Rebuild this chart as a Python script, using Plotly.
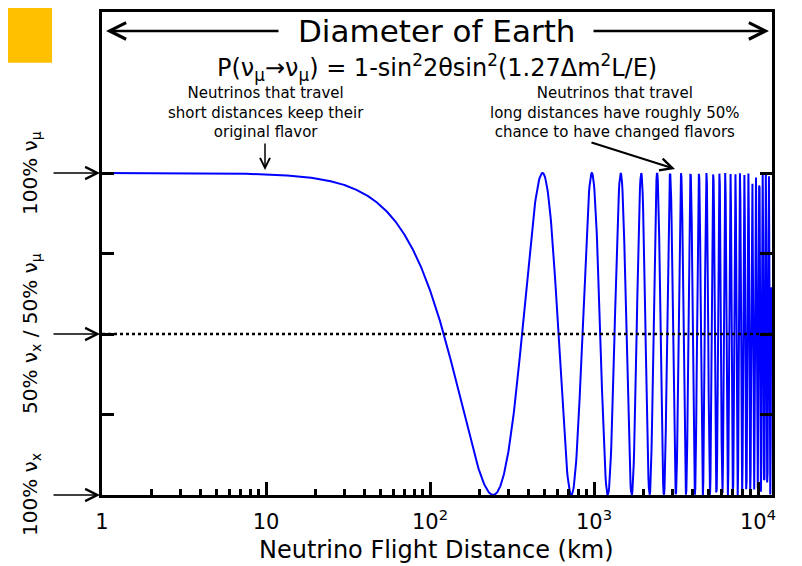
import numpy as np
import plotly.graph_objects as go

# ---- data / parameters ----
SIN2_2THETA = 1.0          # maximal mixing: curve reaches 0
DM2_EV2 = 2.5e-3           # eV^2
E_GEV = 0.49               # GeV  -> first minimum near 242 km
LOG_L_MIN = 0.0            # 1 km
LOG_L_MAX = 4.08           # ~1.2e4 km
N_SAMPLES = 1500
MIXED_LEVEL = 0.5

x_tick_vals = [1, 10, 100, 1000, 10000]
x_tick_text = ["1", "10", "10<sup>2</sup>", "10<sup>3</sup>", "10<sup>4</sup>"]
x_minor_vals = [m * 10 ** d for d in range(4) for m in range(2, 10)]
y_tick_vals = [0.25, 0.5, 0.75, 1.0]

y_label_vals = [1.0, 0.5, 0.0]
y_label_text = ["100% ν<sub>μ</sub>",
                "50% ν<sub>x</sub> / 50% ν<sub>μ</sub>",
                "100% ν<sub>x</sub>"]

title_text = "Diameter of Earth"
formula_text = ("P(ν<sub>μ</sub>→ν<sub>μ</sub>) = 1-sin<sup>2</sup>2θsin<sup>2</sup>"
                "(1.27Δm<sup>2</sup>L/E)")
note_short = "Neutrinos that travel<br>short distances keep their<br>original flavor"
note_long = "Neutrinos that travel<br>long distances have roughly 50%<br>chance to have changed flavors"
x_title = "Neutrino Flight Distance (km)"

# curve from the formula printed on the chart
L_km = np.logspace(LOG_L_MIN, LOG_L_MAX, N_SAMPLES)
P_survive = 1 - SIN2_2THETA * np.sin(1.27 * DM2_EV2 * L_km / E_GEV) ** 2

# ---- layout geometry (page body has an 8px offset) ----
OFF = 8
W, H = 802 - OFF, 566 - OFF
ML, MR, MT, MB = 94, 30, 1, 71
PW, PH = W - ML - MR, H - MT - MB
FONT = "DejaVu Sans"


def px(xr):
    return (xr - OFF - ML) / PW


def py(yr):
    return (H - MB - (yr - OFF)) / PH


fig = go.Figure()
fig.add_trace(go.Scatter(x=L_km, y=P_survive, mode="lines",
                         line=dict(color="#0000ff", width=2), hoverinfo="skip"))
fig.add_trace(go.Scatter(x=[10 ** LOG_L_MIN, 10 ** 4.085], y=[MIXED_LEVEL, MIXED_LEVEL],
                         mode="lines", line=dict(color="black", width=2.5, dash="3px,3px"),
                         hoverinfo="skip"))

ann = []
# title with double arrow
ann.append(dict(xref="paper", yref="paper", x=px(436), y=py(28), text=title_text,
                showarrow=False, font=dict(family=FONT, size=31, color="black"),
                xanchor="center", yanchor="middle"))
ann.append(dict(xref="paper", yref="paper", x=px(106), y=py(28), text="", showarrow=True,
                ax=280 - 106, ay=0, arrowhead=5, arrowwidth=2.5, arrowsize=1.3,
                arrowcolor="black"))
ann.append(dict(xref="paper", yref="paper", x=px(769), y=py(28), text="", showarrow=True,
                ax=592 - 769, ay=0, arrowhead=5, arrowwidth=2.5, arrowsize=1.3,
                arrowcolor="black"))
# formula
ann.append(dict(xref="paper", yref="paper", x=px(437), y=py(65), text=formula_text,
                showarrow=False, font=dict(family=FONT, size=24, color="black"),
                xanchor="center", yanchor="middle"))
# notes
ann.append(dict(xref="paper", yref="paper", x=px(266), y=py(110), text=note_short,
                showarrow=False, font=dict(family=FONT, size=15, color="black"),
                xanchor="center", yanchor="middle"))
ann.append(dict(xref="paper", yref="paper", x=px(615), y=py(110), text=note_long,
                showarrow=False, font=dict(family=FONT, size=15, color="black"),
                xanchor="center", yanchor="middle"))
ann.append(dict(xref="paper", yref="paper", x=px(265), y=py(168), text="", showarrow=True,
                ax=0, ay=140 - 168, arrowhead=5, arrowwidth=1.5, arrowsize=1.3,
                arrowcolor="black"))
ann.append(dict(xref="paper", yref="paper", x=px(675), y=py(167), text="", showarrow=True,
                ax=590 - 675, ay=140 - 167, arrowhead=5, arrowwidth=2, arrowsize=1.2,
                arrowcolor="black"))
# y labels with arrows
for yv, txt in zip(y_label_vals, y_label_text):
    ann.append(dict(xref="paper", yref="y", x=px(31), y=yv, text=txt, textangle=-90,
                    showarrow=False, font=dict(family=FONT, size=20, color="black"),
                    xanchor="center", yanchor="middle"))
    ann.append(dict(xref="paper", yref="y", x=px(100), y=yv, text="", showarrow=True,
                    ax=52 - 100, ay=0, arrowhead=5, arrowwidth=1.5, arrowsize=1.6,
                    arrowcolor="black"))
# x title
ann.append(dict(xref="paper", yref="paper", x=px(436), y=py(550), text=x_title,
                showarrow=False, font=dict(family=FONT, size=24, color="black"),
                xanchor="center", yanchor="middle"))

fig.update_layout(
    width=W, height=H,
    margin=dict(l=ML, r=MR, t=MT, b=MB),
    paper_bgcolor="white", plot_bgcolor="white",
    showlegend=False,
    annotations=ann,
    shapes=[dict(type="rect", xref="paper", yref="paper", x0=px(0), x1=px(52),
                 y0=py(60), y1=py(0), fillcolor="#ffc000", line=dict(width=0),
                 layer="above")],
    xaxis=dict(type="log", range=[LOG_L_MIN, 4.085], showline=True, linewidth=3,
               linecolor="black", mirror=True, ticks="inside", ticklen=13, tickwidth=3,
               tickcolor="black", tickmode="array", tickvals=x_tick_vals,
               ticktext=x_tick_text, tickfont=dict(family=FONT, size=21, color="black"),
               showgrid=False, zeroline=False, ticklabelstandoff=6,
               minor=dict(ticks="inside", ticklen=6, tickwidth=3, tickcolor="black",
                          tickmode="array", tickvals=x_minor_vals, showgrid=False)),
    yaxis=dict(range=[0, 1.5], showline=True, linewidth=3, linecolor="black",
               mirror="ticks", ticks="inside", ticklen=12, tickwidth=3,
               tickcolor="black", tickmode="array", tickvals=y_tick_vals,
               showticklabels=False, showgrid=False, zeroline=False),
)

fig.write_html("out.html")
